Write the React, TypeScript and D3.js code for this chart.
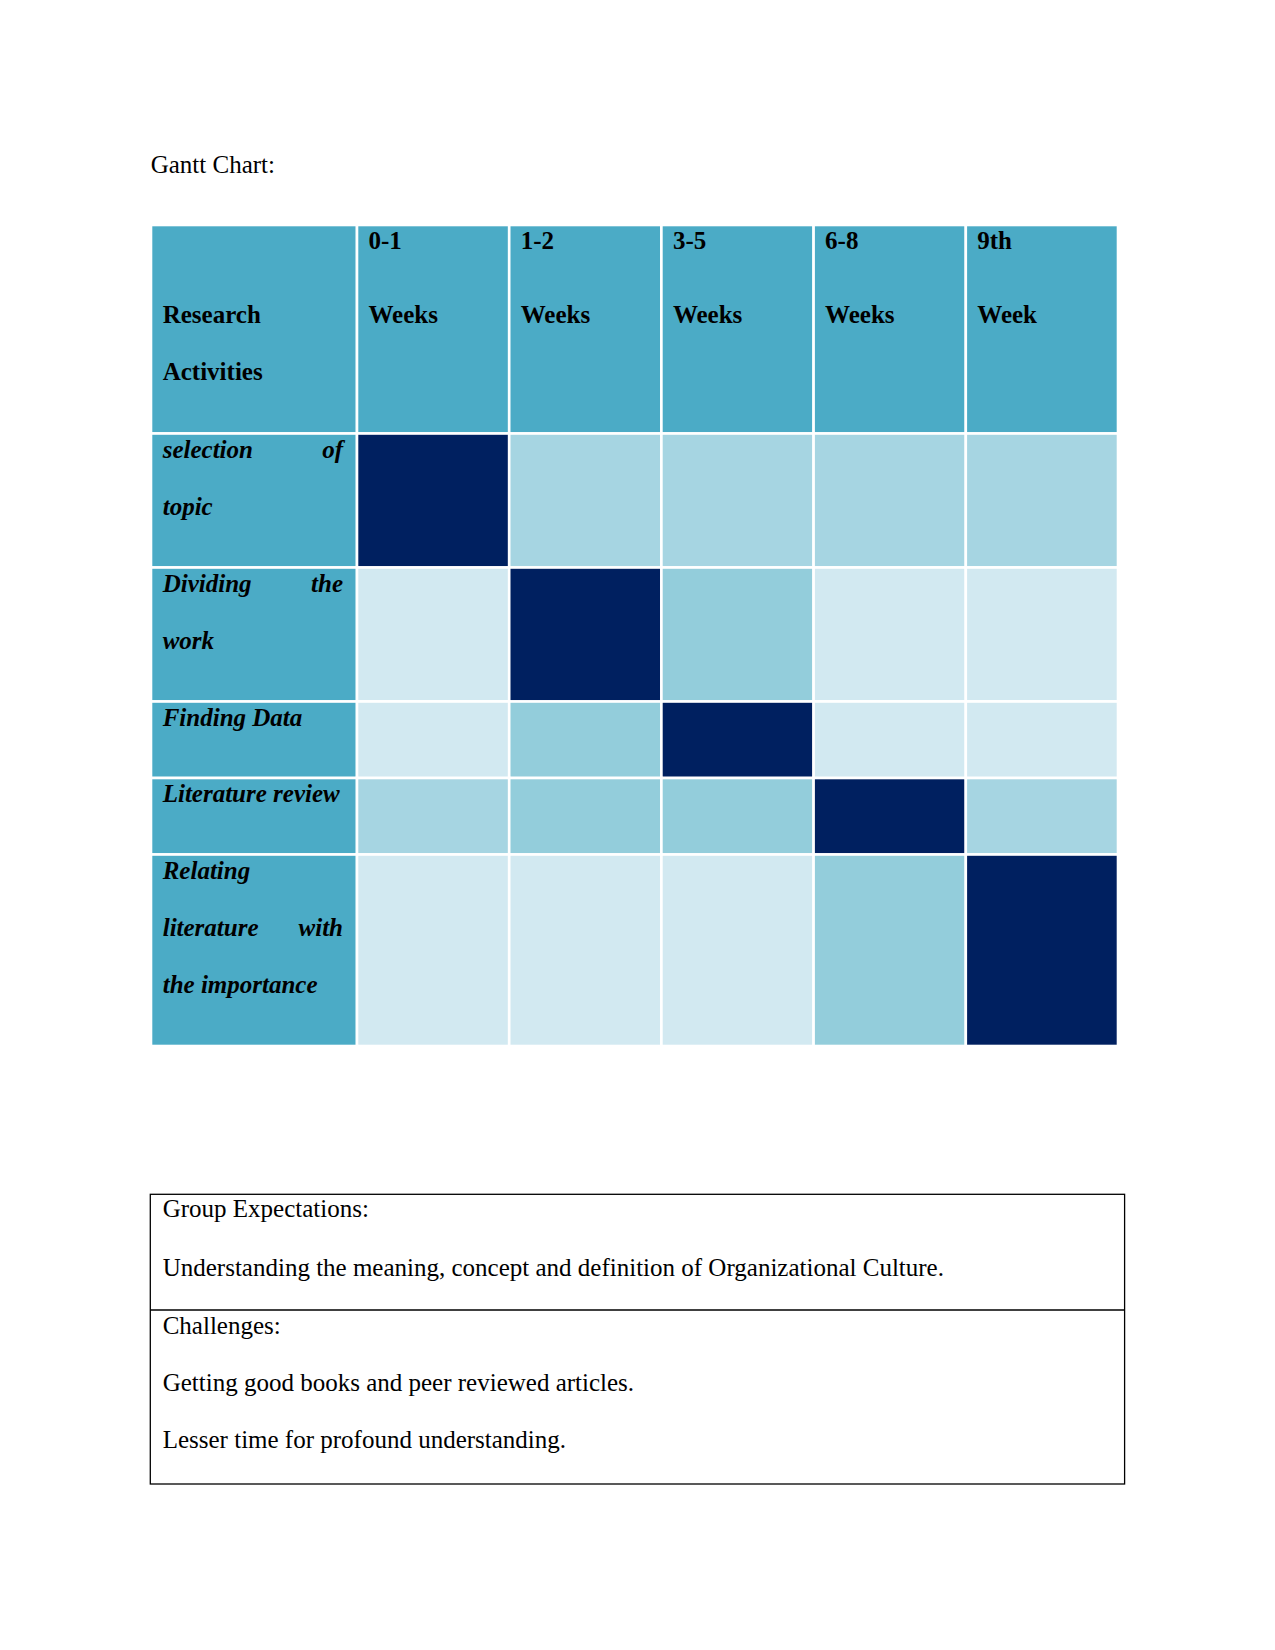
import React, { useEffect, useRef } from "react";
import * as d3 from "d3";

// header labels for the week columns (two lines each)
const periodTop = ["0-1", "1-2", "3-5", "6-8", "9th"];
const periodBottom = ["Weeks", "Weeks", "Weeks", "Weeks", "Week"];

// activities, split into the lines they wrap to in the table
const activities = [
  ["selection of", "topic"],
  ["Dividing the", "work"],
  ["Finding Data"],
  ["Literature review"],
  ["Relating", "literature with", "the importance"],
];

// shading level of each activity in each period (0 light .. 3 active)
const selectionLevels = [3, 1, 1, 1, 1];
const dividingLevels = [0, 3, 2, 0, 0];
const findingLevels = [0, 2, 3, 0, 0];
const literatureLevels = [1, 2, 2, 3, 1];
const relatingLevels = [0, 0, 0, 2, 3];

const expectations = [
  "Group Expectations:",
  "Understanding the meaning, concept and definition of Organizational Culture.",
];
const challenges = [
  "Challenges:",
  "Getting good books and peer reviewed articles.",
  "Lesser time for profound understanding.",
];

const App = () => {
  const ref = useRef<SVGSVGElement | null>(null);

  useEffect(() => {
    const levels = [selectionLevels, dividingLevels, findingLevels, literatureLevels, relatingLevels];
    const font = "'Liberation Serif', 'Times New Roman', serif";
    const svg = d3.select(ref.current);
    svg.selectAll("*").remove();

    svg.append("text")
      .attr("x", 150.7)
      .attr("y", 173)
      .attr("font-family", font)
      .attr("font-size", 25)
      .text("Gantt Chart:");

    const left = 151;
    const labelRight = 357;
    const right = 1118;
    const top = 225;
    const headerH = 208.5;
    const lineH = 57.5;

    const x = d3.scaleBand<string>()
      .domain(periodTop)
      .range([labelRight, right]);

    const color = d3.scaleOrdinal<number, string>()
      .domain([0, 1, 2, 3])
      .range(["#d2e9f1", "#a6d5e2", "#93cddb", "#002060"]);

    // row offsets from the number of text lines
    const heights = activities.map(a => 19 + lineH * a.length);
    const rowTops: number[] = [];
    let acc = top + headerH;
    heights.forEach(h => { rowTops.push(acc); acc += h; });

    const g = svg.append("g");
    const headFill = "#4babc6";
    const gap = 2.6;

    // header row
    g.append("rect")
      .attr("x", left).attr("y", top)
      .attr("width", labelRight - left).attr("height", headerH)
      .attr("fill", headFill).attr("stroke", "#fff").attr("stroke-width", gap);
    g.selectAll(".hcell")
      .data(periodTop)
      .enter()
      .append("rect")
      .attr("x", d => x(d)!)
      .attr("y", top)
      .attr("width", x.bandwidth())
      .attr("height", headerH)
      .attr("fill", headFill)
      .attr("stroke", "#fff")
      .attr("stroke-width", gap);

    const headText = g.append("g")
      .attr("font-family", font)
      .attr("font-size", 25)
      .attr("font-weight", "bold")
      .attr("fill", "#000");
    headText.append("text").attr("x", 162.7).attr("y", 322.7).text("Research");
    headText.append("text").attr("x", 162.7).attr("y", 380).text("Activities");
    periodTop.forEach((p, i) => {
      headText.append("text").attr("x", x(p)! + 11.5).attr("y", 248.7).text(p);
      headText.append("text").attr("x", x(p)! + 11.5).attr("y", 322.7).text(periodBottom[i]);
    });

    // body rows
    activities.forEach((lines, r) => {
      const y0 = rowTops[r];
      const h = heights[r];
      g.append("rect")
        .attr("x", left).attr("y", y0)
        .attr("width", labelRight - left).attr("height", h)
        .attr("fill", headFill).attr("stroke", "#fff").attr("stroke-width", gap);

      g.selectAll(".c" + r)
        .data(levels[r])
        .enter()
        .append("rect")
        .attr("x", (d, i) => x(periodTop[i])!)
        .attr("y", y0)
        .attr("width", x.bandwidth())
        .attr("height", h)
        .attr("fill", d => color(d))
        .attr("stroke", "#fff")
        .attr("stroke-width", gap);

      const lab = g.append("g")
        .attr("font-family", font)
        .attr("font-size", 25)
        .attr("font-weight", "bold")
        .attr("font-style", "italic")
        .attr("fill", "#000");
      lines.forEach((line, li) => {
        const yy = y0 + 24 + li * 57;
        const words = line.split(" ");
        const justify = li < lines.length - 1 && words.length > 1;
        if (justify) {
          lab.append("text").attr("x", 162.7).attr("y", yy).text(words[0]);
          lab.append("text").attr("x", 343).attr("y", yy)
            .attr("text-anchor", "end").text(words.slice(1).join(" "));
        } else {
          lab.append("text").attr("x", 162.7).attr("y", yy).text(line);
        }
      });
    });

    // notes table below
    const bx0 = 150.3, bx1 = 1124.6, by0 = 1194.3, bMid = 1310, by1 = 1484;
    const box = svg.append("g").attr("fill", "none").attr("stroke", "#000").attr("stroke-width", 1.3);
    box.append("rect").attr("x", bx0).attr("y", by0).attr("width", bx1 - bx0).attr("height", by1 - by0);
    box.append("line").attr("x1", bx0).attr("x2", bx1).attr("y1", bMid).attr("y2", bMid);

    const notes = svg.append("g")
      .attr("font-family", font)
      .attr("font-size", 25)
      .attr("fill", "#000");
    expectations.forEach((t, i) => {
      notes.append("text").attr("x", 162.7).attr("y", 1217.3 + i * 58.4).text(t);
    });
    challenges.forEach((t, i) => {
      notes.append("text").attr("x", 162.7).attr("y", 1334 + i * 57.2).text(t);
    });
  }, []);

  return (
    <svg
      ref={ref}
      width={1275}
      height={1650}
      style={{ position: "absolute", left: 0, top: 0, background: "#fff" }}
    />
  );
};

export default App;
